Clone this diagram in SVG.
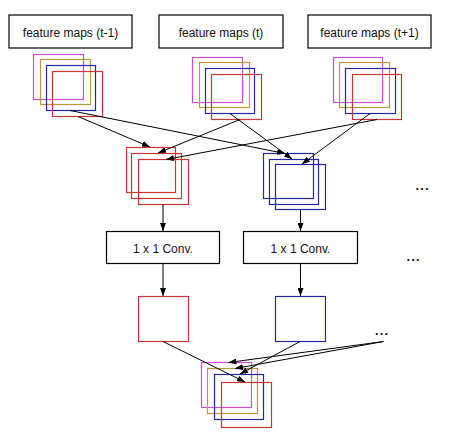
<svg xmlns="http://www.w3.org/2000/svg" width="466" height="442" viewBox="0 0 466 442">
<defs>
<style>
.box{fill:#fff;stroke:#000;stroke-width:1.2}
.lbl{font-family:"Liberation Sans",Arial,sans-serif;font-size:12px;fill:#111;text-anchor:middle}
.dots{font-family:"Liberation Sans",Arial,sans-serif;font-size:13px;font-weight:bold;fill:#111;letter-spacing:1.2px}
.fm{fill:none;stroke-width:1.2}
.m{stroke:#cc4fd8}
.g{stroke:#b89a3c}
.b{stroke:#2626a8}
.r{stroke:#cc3535}
.c{stroke:#000;stroke-width:1;fill:none;marker-end:url(#ah)}
</style>
<marker id="ah" markerWidth="8" markerHeight="6" refX="8" refY="3" orient="auto" markerUnits="userSpaceOnUse">
<path d="M0,0 L8,3 L0,6 z" fill="#000"/>
</marker>
</defs>
<rect width="466" height="442" fill="#fff"/>

<g id="label-t-1"><rect class="box" x="9" y="15" width="123" height="33"/><text class="lbl" x="70.5" y="36.5">feature maps (t-1)</text></g>
<g id="label-t"><rect class="box" x="159" y="15" width="124" height="33"/><text class="lbl" x="221" y="36.5">feature maps (t)</text></g>
<g id="label-t+1"><rect class="box" x="308" y="15" width="123" height="33"/><text class="lbl" x="369.5" y="36.5">feature maps (t+1)</text></g>

<g id="stack-t-1">
<rect class="fm m" x="33.5" y="54.5" width="50" height="45"/>
<rect class="fm g" x="40.5" y="59.5" width="50" height="45"/>
<rect class="fm b" x="46.5" y="65.5" width="49" height="45"/>
<rect class="fm r" x="52.5" y="71.5" width="50" height="45"/>
</g>
<g id="stack-t">
<rect class="fm m" x="192.5" y="57.5" width="50" height="45"/>
<rect class="fm g" x="199.5" y="62.5" width="50" height="45"/>
<rect class="fm b" x="205.5" y="68.5" width="49" height="45"/>
<rect class="fm r" x="211.5" y="74.5" width="50" height="45"/>
</g>
<g id="stack-t+1">
<rect class="fm m" x="333.5" y="57.5" width="49" height="45"/>
<rect class="fm g" x="339.5" y="62.5" width="50" height="45"/>
<rect class="fm b" x="345.5" y="68.5" width="50" height="45"/>
<rect class="fm r" x="352.5" y="74.5" width="49" height="45"/>
</g>

<g id="red-stack">
<rect class="fm r" x="126.5" y="147.5" width="49" height="45"/>
<rect class="fm r" x="131.5" y="153.5" width="50" height="45"/>
<rect class="fm r" x="138.5" y="159.5" width="50" height="45"/>
</g>
<g id="blue-stack">
<rect class="fm b" x="263.5" y="153.5" width="50" height="45"/>
<rect class="fm b" x="269.5" y="159.5" width="49" height="45"/>
<rect class="fm b" x="275.5" y="164.5" width="50" height="45"/>
</g>

<g id="conv-1"><rect class="box" x="106.5" y="231.5" width="113" height="32"/><text class="lbl" x="163" y="253">1 x 1 Conv.</text></g>
<g id="conv-2"><rect class="box" x="243.5" y="231.5" width="114" height="32"/><text class="lbl" x="300.5" y="253">1 x 1 Conv.</text></g>

<g id="red-out"><rect class="fm r" x="138.5" y="296.5" width="50" height="45"/></g>
<g id="blue-out"><rect class="fm b" x="275.5" y="296.5" width="50" height="45"/></g>

<g id="output-stack">
<rect class="fm m" x="201.5" y="362.5" width="50" height="45"/>
<rect class="fm g" x="207.5" y="368.5" width="50" height="45"/>
<rect class="fm b" x="214.5" y="374.5" width="49" height="45"/>
<rect class="fm r" x="221.5" y="382.5" width="50" height="45"/>
</g>

<g id="ellipses">
<text class="dots" x="415.5" y="190">...</text>
<text class="dots" x="406.5" y="261">...</text>
<text class="dots" x="375" y="335">...</text>
</g>

<g id="connectors">
<line class="c" x1="78" y1="116.5" x2="150" y2="147"/>
<line class="c" x1="70" y1="110.5" x2="285" y2="153.5"/>
<line class="c" x1="240" y1="119.5" x2="158" y2="153"/>
<line class="c" x1="230" y1="113.5" x2="292" y2="159"/>
<line class="c" x1="377" y1="119.5" x2="166" y2="159.5"/>
<line class="c" x1="370" y1="113.5" x2="302" y2="164"/>
<line class="c" x1="163" y1="204.5" x2="163" y2="231"/>
<line class="c" x1="300.5" y1="209.5" x2="300.5" y2="231"/>
<line class="c" x1="163" y1="263.5" x2="163" y2="296"/>
<line class="c" x1="300.5" y1="263.5" x2="300.5" y2="296"/>
<line class="c" x1="163" y1="341.5" x2="245" y2="382"/>
<line class="c" x1="300" y1="341.5" x2="240" y2="374"/>
<line class="c" x1="383.5" y1="341.5" x2="228.5" y2="362.5"/>
<line class="c" x1="383.5" y1="341.5" x2="235" y2="368.5"/>
</g>
</svg>
